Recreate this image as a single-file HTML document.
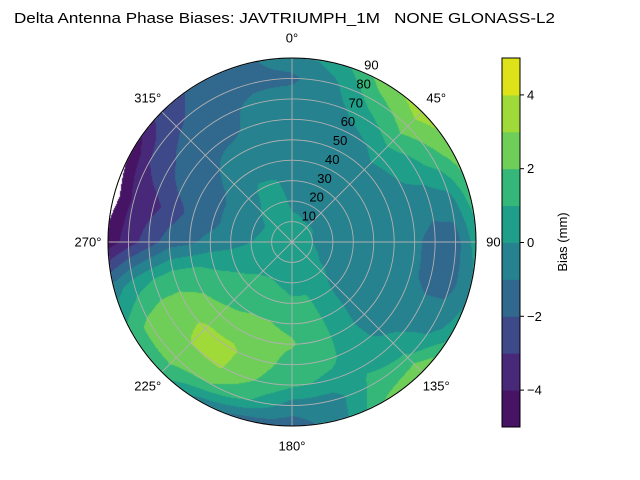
<!DOCTYPE html>
<html><head><meta charset="utf-8"><style>
html,body{margin:0;padding:0;background:#fff;}
#wrap{position:relative;width:640px;height:480px;font-family:"Liberation Sans",sans-serif;}
canvas,svg{position:absolute;left:0;top:0;}
</style></head><body>
<div id="wrap">
<canvas id="cv" width="640" height="480"></canvas>
<svg id="sv" width="640" height="480"></svg>
</div>
<script>
// Data: azimuth (deg, clockwise from N), zenith (deg), bias values (mm)
const azimuths = [0,15,30,45,60,75,90,105,120,135,150,165,180,195,210,225,240,255,270,285,300,315,330,345];
const zeniths = [0,10,20,30,40,50,60,70,80,90];
const biasRows = [
 [0.5,0.3,-0.3,-0.5,-0.5,-0.5,-0.5,-0.6,-1.2,-0.5],
 [0.5,0.2,-0.4,-0.5,-0.5,-0.5,-0.5,-0.5,-0.2,0.5],
 [0.5,0.1,-0.5,-0.5,-0.5,-0.5,-0.3,0.5,1.5,2.5],
 [0.5,0.1,-0.5,-0.5,-0.5,-0.3,0.3,1.5,2.5,3.5],
 [0.5,0.1,-0.5,-0.5,-0.5,-0.5,0.0,0.5,1.5,2.5],
 [0.5,0.0,-0.5,-0.5,-0.5,-0.5,-0.5,-0.7,-0.4,1.5],
 [0.5,0.0,-0.5,-0.5,-0.5,-0.5,-0.8,-1.4,-1.5,0.5],
 [0.5,0.1,-0.4,-0.5,-0.5,-0.5,-0.8,-1.3,-1.3,-0.3],
 [0.5,0.3,-0.3,-0.5,-0.5,-0.5,-0.5,-0.6,-0.5,0.5],
 [0.5,0.4,0.2,-0.3,-0.4,-0.5,-0.3,0.4,1.2,3.1],
 [0.5,0.5,0.5,0.6,0.6,0.5,0.6,0.8,1.3,2.0],
 [0.5,0.6,0.8,1.1,1.3,1.5,1.3,0.8,-0.5,-0.5],
 [0.5,0.6,0.8,1.1,1.8,2.1,1.6,1.2,-0.5,-1.5],
 [0.5,0.6,0.9,1.3,2.0,2.3,2.4,2.0,1.0,-1.5],
 [0.5,0.6,1.0,1.5,2.0,2.5,3.2,3.1,2.0,-0.5],
 [0.5,0.6,0.9,1.3,1.7,2.4,3.2,3.0,2.4,1.5],
 [0.5,0.5,0.7,1.0,1.4,2.0,2.5,2.7,2.3,1.5],
 [0.5,0.5,0.5,0.6,0.8,1.1,1.3,1.0,0.5,-0.5],
 [0.5,0.4,0.0,-0.5,-0.7,-1.2,-1.5,-2.5,-3.5,-4.6],
 [0.5,0.3,-0.2,-0.5,-1.3,-1.6,-2.5,-3.3,-3.8,-5.5],
 [0.5,0.3,-0.3,-0.5,-1.2,-1.5,-1.5,-2.3,-3.0,-4.8],
 [0.5,0.4,0.1,-0.5,-0.7,-1.0,-1.3,-1.5,-2.2,-2.5],
 [0.5,0.5,0.3,0.2,-0.5,-0.5,-1.2,-1.3,-1.5,-1.7],
 [0.5,0.5,0.4,0.1,-0.5,-0.5,-0.6,-0.8,-1.2,-1.2]
];
const levels = [-5,-4,-3,-2,-1,0,1,2,3,4,5];
const levelColors = ['#471365','#482878','#3e4989','#31688e','#26828e','#1f9e89','#35b779','#6ece58','#a0da39','#dde318'];
const cbTicks = [-4,-2,0,2,4];
const ringTicks = [10,20,30,40,50,60,70,80,90];
const angleTicks = [0,45,90,135,180,225,270,315];

const CX=292, CY=242, R=184, RMAX=90;
const rScale = z => z/RMAX*R;
function val(az, zen){
  const n=azimuths.length, step=360/n;
  let a=((az%360)+360)%360;
  let i=Math.floor(a/step), fa=a/step-i, i2=(i+1)%n;
  let zs=zeniths[1]-zeniths[0];
  let j=Math.min(Math.floor(zen/zs), zeniths.length-2), fz=zen/zs-j;
  const v1=biasRows[i][j]*(1-fz)+biasRows[i][j+1]*fz;
  const v2=biasRows[i2][j]*(1-fz)+biasRows[i2][j+1]*fz;
  return v1*(1-fa)+v2*fa;
}
function colorOf(v){
  if(v<levels[0]||v>levels[levels.length-1]) return null;
  for(let k=0;k<levels.length-1;k++) if(v<=levels[k+1]) return levelColors[k];
  return levelColors[levelColors.length-1];
}
const ctx=document.getElementById('cv').getContext('2d');
for(let y=CY-R-1;y<=CY+R+1;y++){
  for(let x=CX-R-1;x<=CX+R+1;x++){
    const dx=x+0.5-CX, dy=y+0.5-CY, d=Math.hypot(dx,dy);
    if(d>R) continue;
    const az=Math.atan2(dx,-dy)*180/Math.PI;
    const c=colorOf(val(az, d/R*RMAX));
    if(!c) continue;
    ctx.fillStyle=c; ctx.fillRect(x,y,1,1);
  }
}
const NS='http://www.w3.org/2000/svg', sv=document.getElementById('sv');
function mk(tag, attrs, parent){const e=document.createElementNS(NS,tag);for(const k in attrs)e.setAttribute(k,attrs[k]);(parent||sv).appendChild(e);return e;}
const grid=mk('g',{});


ringTicks.forEach(t=>{
  const c=mk('circle',{cx:CX,cy:CY,r:rScale(t),fill:'none',stroke:'#b0b0b0','stroke-width':0.9},grid);
  
  
  const a=22.5*Math.PI/180, px=CX+rScale(t)*Math.sin(a)+9, py=CY-rScale(t)*Math.cos(a)-7;
  const tx=mk('text',{x:px,y:py+4.5,'font-size':13,'text-anchor':'middle',fill:'#000'});
  tx.textContent=t;
  
  
});
angleTicks.forEach(t=>{
  const a=t*Math.PI/180;
  const l=mk('line',{x1:CX,y1:CY,x2:CX+R*Math.sin(a),y2:CY-R*Math.cos(a),stroke:'#b0b0b0','stroke-width':0.9},grid);
  
  
  const lr=R+20, tx=mk('text',{x:CX+lr*Math.sin(a),y:CY-lr*Math.cos(a)+4.5,'font-size':13,'text-anchor':'middle',fill:'#000'});
  tx.textContent=t+'°';
  
  
});
const border=mk('circle',{cx:CX,cy:CY,r:R,fill:'none',stroke:'#000','stroke-width':1});


const title=mk('text',{x:14,y:23,'font-size':15,'text-anchor':'start',fill:'#000',textLength:541,lengthAdjust:'spacingAndGlyphs',style:'white-space:pre'});
title.textContent='Delta Antenna Phase Biases: JAVTRIUMPH_1M   NONE GLONASS-L2';


const CBX=502, CBW=18, CBT=58, CBB=427;
const cbY=v=>CBB-(v-levels[0])/(levels[levels.length-1]-levels[0])*(CBB-CBT);
const cb=mk('g',{});


levelColors.forEach((c,k)=>{
  const r=mk('rect',{x:CBX,y:cbY(levels[k+1]),width:CBW,height:cbY(levels[k])-cbY(levels[k+1])+0.5,fill:c},cb);
  
  
});
mk('rect',{x:CBX,y:CBT,width:CBW,height:CBB-CBT,fill:'none',stroke:'#000','stroke-width':1},cb);
cbTicks.forEach(t=>{
  const y=cbY(t);
  mk('line',{x1:CBX+CBW,y1:y,x2:CBX+CBW+4,y2:y,stroke:'#000'},cb);
  const tx=mk('text',{x:CBX+CBW+7,y:y+4.5,'font-size':13,fill:'#000'},cb);
  tx.textContent=t<0?'\u2212'+(-t):String(t);
  
  
});
const cbl=mk('text',{x:0,y:0,'font-size':13,'text-anchor':'middle',fill:'#000',transform:'translate(567,242) rotate(-90)'});
cbl.textContent='Bias (mm)';


</script>
</body></html>
